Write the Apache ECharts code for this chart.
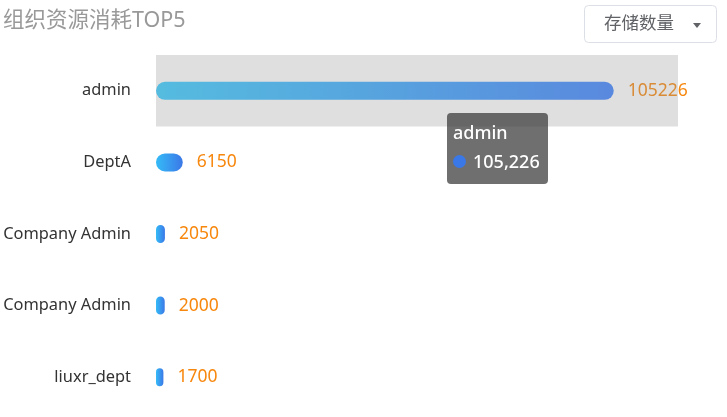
<!DOCTYPE html>
<html>
<head>
<meta charset="utf-8">
<script src="https://cdn.jsdelivr.net/npm/echarts@6/dist/echarts.min.js"></script>
<style>
html,body{margin:0;padding:0;background:#fff;}
#c{width:727px;height:417px;}
</style>
</head>
<body>
<div id="c"></div>
<script>
var titleText = '组织资源消耗TOP5';
var selectText = '存储数量';
var categories = ['admin', 'DeptA', 'Company Admin', 'Company Admin', 'liuxr_dept'];
var values = [105226, 6150, 2050, 2000, 1700];

var FONT = '"Noto Sans", "Noto Sans CJK SC", sans-serif';
var chart = echarts.init(document.getElementById('c'));
chart.setOption({
  animation: false,
  textStyle: { fontFamily: FONT },
  title: {
    text: titleText, left: 3, top: 5, padding: [5, 0, 5, 0],
    textStyle: { color: '#999', fontSize: 21.5, fontWeight: 'normal', fontFamily: FONT }
  },
  graphic: [
    { type: 'rect', left: 584, top: 5, shape: { width: 132, height: 37, r: 4 },
      style: { fill: '#fff', stroke: '#dcdfe6', lineWidth: 1 } },
    { type: 'text', left: 604, top: 15, style: { text: selectText, fill: '#606266', font: '17.5px ' + FONT } },
    { type: 'polygon', shape: { points: [[693, 23], [701, 23], [697, 28]] }, style: { fill: '#606266' } }
  ],
  grid: { left: 156, right: 49, top: 55, bottom: 4, containLabel: false },
  tooltip: {
    trigger: 'axis',
    axisPointer: { type: 'shadow', z: 100, shadowStyle: { color: 'rgba(150,150,150,0.3)' } },
    backgroundColor: 'rgba(50,50,50,0.7)',
    borderWidth: 0,
    borderRadius: 4,
    padding: [6, 8, 8, 6],
    extraCssText: 'box-shadow:none;',
    textStyle: { color: '#fff', fontSize: 18, fontFamily: FONT },
    position: [447, 113],
    transitionDuration: 0,
    alwaysShowContent: true,
    formatter: function (params) {
      var p = params[0];
      return '<div style="font-size:18px;line-height:27px;color:#fff;font-weight:500">' + p.name + '</div>' +
        '<div style="font-size:18px;line-height:30px;color:#fff;white-space:nowrap;font-weight:500">' +
        '<span style="display:inline-block;vertical-align:middle;width:13px;height:13px;border-radius:7px;background:#3b78e7;margin-right:7px;margin-top:-3px"></span>' +
        Number(p.value).toLocaleString('en-US') + '</div>';
    }
  },
  xAxis: { type: 'value', max: 120000, show: false },
  yAxis: {
    type: 'category', data: categories, inverse: true,
    axisLine: { show: false }, axisTick: { show: false },
    axisLabel: { color: '#333', fontSize: 16.4, margin: 25, fontFamily: FONT }
  },
  series: [{
    type: 'bar',
    data: values,
    barWidth: 18,
    itemStyle: {
      borderRadius: 9,
      color: new echarts.graphic.LinearGradient(1, 0, 0, 0, [
        { offset: 0, color: '#3b78e7' },
        { offset: 1, color: '#35bbf7' }
      ])
    },
    label: { show: true, position: 'right', distance: 14, color: '#f7870d', fontSize: 17.5, fontFamily: FONT }
  }]
});
chart.dispatchAction({ type: 'showTip', seriesIndex: 0, dataIndex: 0 });
</script>
</body>
</html>
